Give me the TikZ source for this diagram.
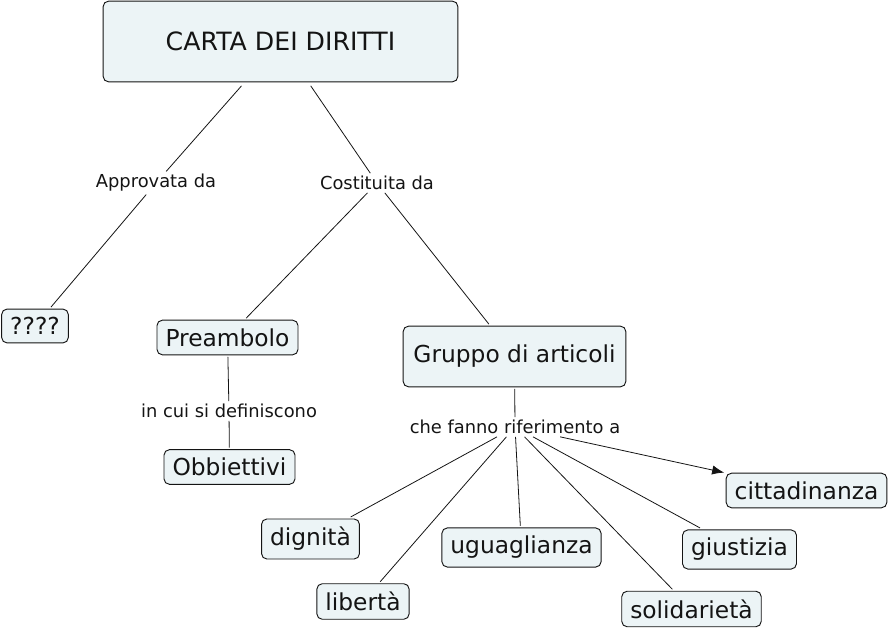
\documentclass[tikz,border=0pt]{standalone}
\usepackage{fontspec}
\setmainfont{DejaVu Sans}
\usetikzlibrary{arrows.meta}
\definecolor{boxfill}{RGB}{236,244,246}
\definecolor{inkc}{RGB}{20,20,20}
\tikzset{
  concept/.style={draw=inkc, fill=boxfill, rounded corners=4pt, line width=0.7pt,
    inner xsep=6.4pt, inner ysep=6.2pt, outer sep=1.5pt, text=inkc,
    font=\fontsize{17.5}{20}\selectfont},
  linkword/.style={inner sep=2pt, text=inkc, font=\fontsize{13.4}{16}\selectfont},
  conn/.style={draw=inkc, line width=0.6pt},
  arrowconn/.style={conn, -{Latex[length=9pt,width=7pt]}}
}
\begin{document}
\begin{tikzpicture}[x=0.75pt,y=-0.75pt]
\useasboundingbox (0,0) rectangle (890,630);
% concepts
\node[concept, minimum width=266pt, minimum height=60.5pt, outer sep=3pt,
  font=\fontsize{18.9}{22}\selectfont] (carta) at (280.5,41.5) {CARTA DEI DIRITTI};
\node[concept] (q) at (35,326) {????};
\node[concept] (pre) at (227.5,337.5) {Preambolo};
\node[concept, minimum width=167pt, minimum height=45.5pt] (gruppo) at (514.5,356.5) {Gruppo di articoli};
\node[concept] (obb) at (229.5,467) {Obbiettivi};
\node[concept] (dig) at (310.5,539) {dignità};
\node[concept] (lib) at (363,601.5) {libertà};
\node[concept] (ugu) at (521.5,547.5) {uguaglianza};
\node[concept] (sol) at (691.5,609) {solidarietà};
\node[concept] (giu) at (739.5,549.5) {giustizia};
\node[concept] (cit) at (806.5,490.5) {cittadinanza};
% linking words
\node[linkword] (appr) at (156,183) {Approvata da};
\node[linkword] (cost) at (377,183) {Costituita da};
\node[linkword] (incui) at (229,411) {in cui si definiscono};
\node[linkword] (che) at (515,427) {che fanno riferimento a};
% connectors
\draw[conn] (carta) -- (appr);
\draw[conn] (appr) -- (q);
\draw[conn] (carta) -- (cost);
\draw[conn] (cost) -- (pre);
\draw[conn] (cost) -- (gruppo);
\draw[conn] (pre) -- (incui);
\draw[conn] (incui) -- (obb);
\draw[conn] (gruppo) -- (che);
\draw[conn] (che) -- (dig);
\draw[conn] (che) -- (lib);
\draw[conn] (che) -- (ugu);
\draw[conn] (che) -- (sol);
\draw[conn] (che) -- (giu);
\draw[arrowconn] (che) -- (cit);
\end{tikzpicture}
\end{document}
